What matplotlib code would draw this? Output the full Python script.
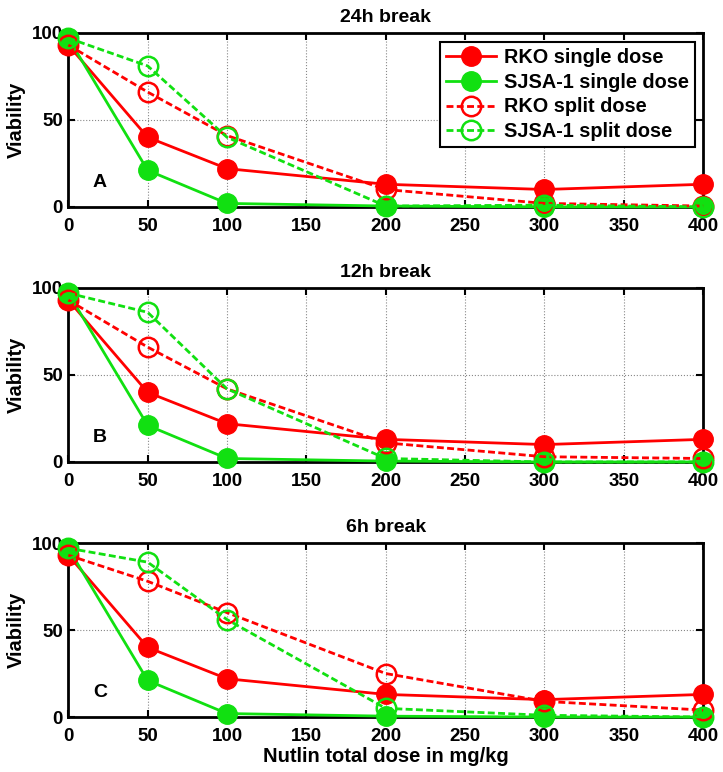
import matplotlib.pyplot as plt
import numpy as np

plt.rcParams['font.family'] = ['Liberation Sans', 'DejaVu Sans']
plt.rcParams['font.weight'] = 'bold'

dose = [0, 50, 100, 200, 300, 400]

# single dose curves (same in every panel)
rko_single = [93, 40, 22, 13, 10, 13]
sjsa_single = [97, 21, 2, 0.5, 0, 0]

# split dose curves per break
titles = ['24h break', '12h break', '6h break']
panel_letters = ['A', 'B', 'C']
rko_split = [
    [93, 66, 41, 10, 2, 0.5],
    [93, 66, 42, 11, 3, 2],
    [93, 78, 60, 25, 9, 4],
]
sjsa_split = [
    [97, 81, 40, 0.5, 1, 0],
    [97, 86, 42, 2, 0, 0],
    [97, 89, 56, 5, 1, 0],
]

red = '#ff0000'
green = '#11e011'
dash = (0, (2.5, 1.2))

fig = plt.figure(figsize=(7.23, 7.72), dpi=100)
bottoms = [0.732, 0.4016, 0.0712]
height = 0.2254

for i in range(3):
    ax = fig.add_axes([0.0945, bottoms[i], 0.878, height])
    ax.plot(dose, rko_single, '-o', color=red, lw=2, ms=14, clip_on=False,
            label='RKO single dose', zorder=3)
    ax.plot(dose, sjsa_single, '-o', color=green, lw=2, ms=14, clip_on=False,
            label='SJSA-1 single dose', zorder=3)
    ax.plot(dose, rko_split[i], marker='o', ls=dash, color=red, lw=2, ms=14,
            mfc='none', mew=1.8, clip_on=False, label='RKO split dose', zorder=4)
    ax.plot(dose, sjsa_split[i], marker='o', ls=dash, color=green, lw=2, ms=14,
            mfc='none', mew=1.8, clip_on=False, label='SJSA-1 split dose',
            zorder=4)

    ax.set_xlim(0, 400)
    ax.set_ylim(0, 100)
    ax.set_xticks(np.arange(0, 401, 50))
    ax.set_yticks([0, 50, 100])
    ax.grid(True, color='#888888', ls=':', lw=0.8)
    ax.tick_params(direction='in', top=True, right=True, length=5, width=1.5,
                   labelsize=13.5)
    ax.tick_params(axis='x', pad=8)
    ax.tick_params(axis='y', pad=4)
    for lab in ax.get_xticklabels() + ax.get_yticklabels():
        lab.set_fontweight('bold')
    for s in ax.spines.values():
        s.set_linewidth(2)
    ax.set_title(titles[i], fontsize=14, fontweight='bold', pad=8)
    ax.set_ylabel('Viability', fontsize=14.5, fontweight='bold', labelpad=4)
    ax.text(20, 14, panel_letters[i], fontsize=14, fontweight='bold',
            ha='center', va='center')
    if i == 0:
        leg = ax.legend(loc='upper right', fontsize=14.3, fancybox=False,
                        edgecolor='black', framealpha=1, handlelength=2.5,
                        borderaxespad=0.0, labelspacing=0.3, borderpad=0.3,
                        handletextpad=0.4,
                        bbox_to_anchor=(0.987, 0.95))
        leg.get_frame().set_linewidth(1.5)
        for t in leg.get_texts():
            t.set_fontweight('bold')
    if i == 2:
        ax.set_xlabel('Nutlin total dose in mg/kg', fontsize=14.5,
                      fontweight='bold', labelpad=1)

fig.savefig('out.png', dpi=100)
